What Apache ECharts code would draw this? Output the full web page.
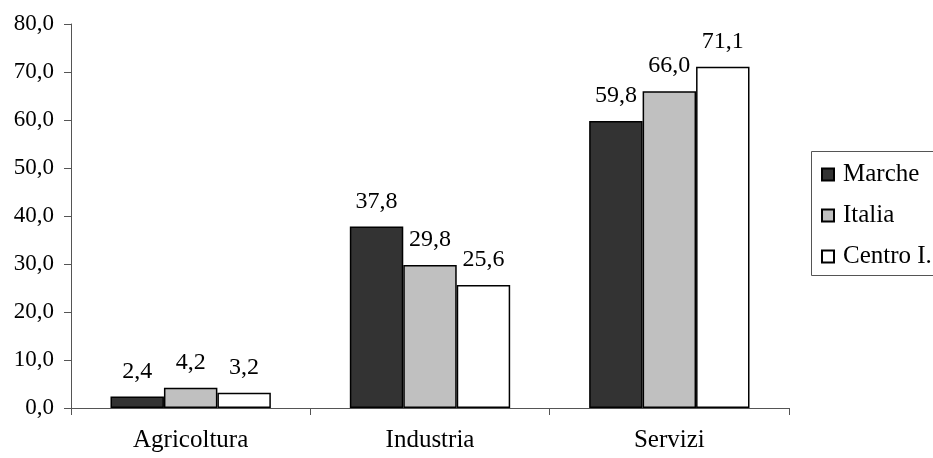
<!DOCTYPE html>
<html><head><meta charset="utf-8">
<script src="https://cdn.jsdelivr.net/npm/echarts@6/dist/echarts.min.js"></script>
<style>html,body{margin:0;padding:0;background:#fff}#c{width:933px;height:458px}</style>
</head><body><div id="c"></div>
<script>
const categories = ["Agricoltura", "Industria", "Servizi"];
const seriesNames = ["Marche", "Italia", "Centro I."];
const marche = [2.4, 37.8, 59.8];
const italia = [4.2, 29.8, 66.0];
const centro = [3.2, 25.6, 71.1];
const colors = ["#333333", "#c0c0c0", "#ffffff"];
const fmt = v => v.toFixed(1).replace('.', ',');
const font = "'Liberation Serif', 'Times New Roman', serif";
const values = [marche, italia, centro];
const chart = echarts.init(document.getElementById('c'));
chart.setOption({
  animation: false,
  textStyle: { fontFamily: font },
  grid: { left: 71, right: 144, top: 24, bottom: 50, containLabel: false },
  graphic: [{
    type: 'rect', z: -1,
    shape: { x: 811.5, y: 151.5, width: 200, height: 124 },
    style: { fill: '#fff', stroke: '#555', lineWidth: 1 }
  }],
  legend: {
    orient: 'vertical', left: 811, top: 151,
    padding: [11, 10, 6, 10], itemGap: 16, itemWidth: 12, itemHeight: 12,
    textStyle: { fontFamily: font, fontSize: 25, color: '#000', padding: [0, 0, 0, 4] },
    icon: 'rect',
    data: seriesNames
  },
  xAxis: {
    type: 'category', data: categories,
    axisLine: { lineStyle: { color: '#555', width: 1 } },
    axisTick: { show: true, length: 7, lineStyle: { color: '#555' } },
    axisLabel: { fontSize: 25, color: '#000', margin: 20, fontFamily: font }
  },
  yAxis: {
    type: 'value', min: 0, max: 80, interval: 10,
    axisLine: { show: true, lineStyle: { color: '#555', width: 1 } },
    axisTick: { show: true, length: 7, lineStyle: { color: '#555' } },
    splitLine: { show: false },
    axisLabel: { fontSize: 23, color: '#000', margin: 17, fontFamily: font, formatter: v => fmt(v) }
  },
  series: values.map((d, i) => ({
    name: seriesNames[i], type: 'bar', data: d,
    barGap: '0%', barCategoryGap: '33%',
    itemStyle: { color: colors[i], borderColor: '#000', borderWidth: 1.5 },
    label: { show: true, position: 'top', distance: 13, fontSize: 24, color: '#000', fontFamily: font, formatter: p => fmt(p.value) }
  }))
});
</script></body></html>
